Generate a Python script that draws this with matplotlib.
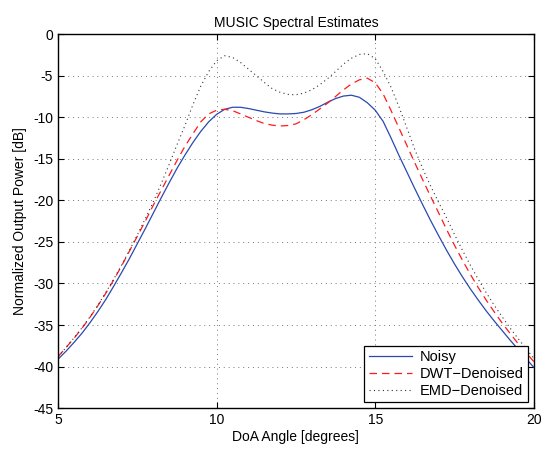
import numpy as np
import matplotlib.pyplot as plt

plt.rcParams['font.family'] = ['Liberation Sans', 'DejaVu Sans']
plt.rcParams['axes.unicode_minus'] = False

# DoA angle grid [degrees], 5 to 20 in steps of 0.25
angle = [5.0, 5.25, 5.5, 5.75, 6.0, 6.25, 6.5, 6.75, 7.0, 7.25, 7.5, 7.75,
         8.0, 8.25, 8.5, 8.75, 9.0, 9.25, 9.5, 9.75, 10.0, 10.25, 10.5, 10.75,
         11.0, 11.25, 11.5, 11.75, 12.0, 12.25, 12.5, 12.75, 13.0, 13.25, 13.5,
         13.75, 14.0, 14.25, 14.5, 14.75, 15.0, 15.25, 15.5, 15.75, 16.0, 16.25,
         16.5, 16.75, 17.0, 17.25, 17.5, 17.75, 18.0, 18.25, 18.5, 18.75, 19.0,
         19.25, 19.5, 19.75, 20.0]

noisy = [-39.1, -38.15, -37.1, -36.0, -34.75, -33.4, -31.95, -30.35, -28.7,
         -27.0, -25.2, -23.4, -21.55, -19.7, -17.9, -16.15, -14.55, -13.05,
         -11.7, -10.55, -9.65, -9.05, -8.8, -8.8, -8.95, -9.15, -9.35, -9.5,
         -9.6, -9.6, -9.55, -9.4, -9.1, -8.7, -8.2, -7.75, -7.45, -7.35, -7.6,
         -8.25, -9.15, -10.5, -12.5, -14.6, -16.6, -18.6, -20.55, -22.45,
         -24.25, -26.0, -27.65, -29.2, -30.65, -32.0, -33.3, -34.5, -35.65,
         -36.8, -37.9, -39.0, -40.1]

dwt = [-38.8, -37.7, -36.6, -35.4, -34.1, -32.7, -31.2, -29.6, -27.9,
       -26.1, -24.3, -22.5, -20.6, -18.8, -17.0, -15.2, -13.5, -12.0,
       -10.55, -9.6, -9.15, -9.05, -9.2, -9.6, -10.0, -10.4, -10.75, -10.95,
       -11.05, -11.0, -10.8, -10.3, -9.7, -9.0, -8.3, -7.5, -6.7, -6.0, -5.5,
       -5.3, -5.85, -7.2, -9.2, -11.3, -13.4, -15.5, -17.55, -19.55,
       -21.5, -23.5, -25.4, -27.2, -28.9, -30.5, -32.0, -33.4, -34.75,
       -36.0, -37.2, -38.3, -39.4]

emd = [-38.8, -37.7, -36.55, -35.35, -34.05, -32.65, -31.1, -29.5, -27.8,
       -26.0, -24.15, -22.2, -20.2, -18.0, -15.7, -13.3, -11.0, -8.5,
       -6.25, -4.5, -3.2, -2.6, -2.8, -3.4, -4.2, -5.0, -5.8, -6.55,
       -7.0, -7.25, -7.3, -7.1, -6.7, -6.1, -5.35, -4.5, -3.6, -2.9, -2.45,
       -2.35, -2.95, -4.5, -6.4, -8.75, -11.3, -13.9, -16.2, -18.3,
       -20.25, -22.1, -24.1, -26.0, -27.8, -29.5, -31.1, -32.6, -34.0,
       -35.35, -36.6, -37.8, -39.0]

fig = plt.figure(figsize=(5.43, 4.49), dpi=100)
ax = fig.add_axes([0.107, 0.091, 0.876, 0.833])

ax.plot(angle, noisy, color='#2a48b0', lw=0.9, label='Noisy')
ax.plot(angle, dwt, color='#ff1a1a', lw=0.9, ls=(0, (6, 4)), label='DWT\u2212Denoised')
ax.plot(angle, emd, color='#333333', lw=0.8, ls=(0, (1, 3)), label='EMD\u2212Denoised')

ax.set_xlim(5, 20)
ax.set_ylim(-45, 0)
ax.set_xticks([5, 10, 15, 20])
ax.set_yticks(np.arange(-45, 1, 5))
ax.tick_params(direction='in', top=True, right=True, labelsize=10, length=4)
ax.grid(True, color='#777777', ls=(0, (1, 4)), lw=0.7)
for s in ax.spines.values():
    s.set_linewidth(1.0)

ax.set_xlabel('DoA Angle [degrees]', fontsize=10, labelpad=2)
ax.set_ylabel('Normalized Output Power [dB]', fontsize=10, labelpad=4)
ax.set_title('MUSIC Spectral Estimates', fontsize=10, pad=5)

leg = ax.legend(loc='lower right', fontsize=10.5, fancybox=False, framealpha=1,
                edgecolor='black', borderaxespad=0.4, handlelength=3.0,
                labelspacing=0.2, borderpad=0.3, handletextpad=0.5)
leg.get_frame().set_linewidth(0.9)

fig.savefig('out.png', dpi=100)
